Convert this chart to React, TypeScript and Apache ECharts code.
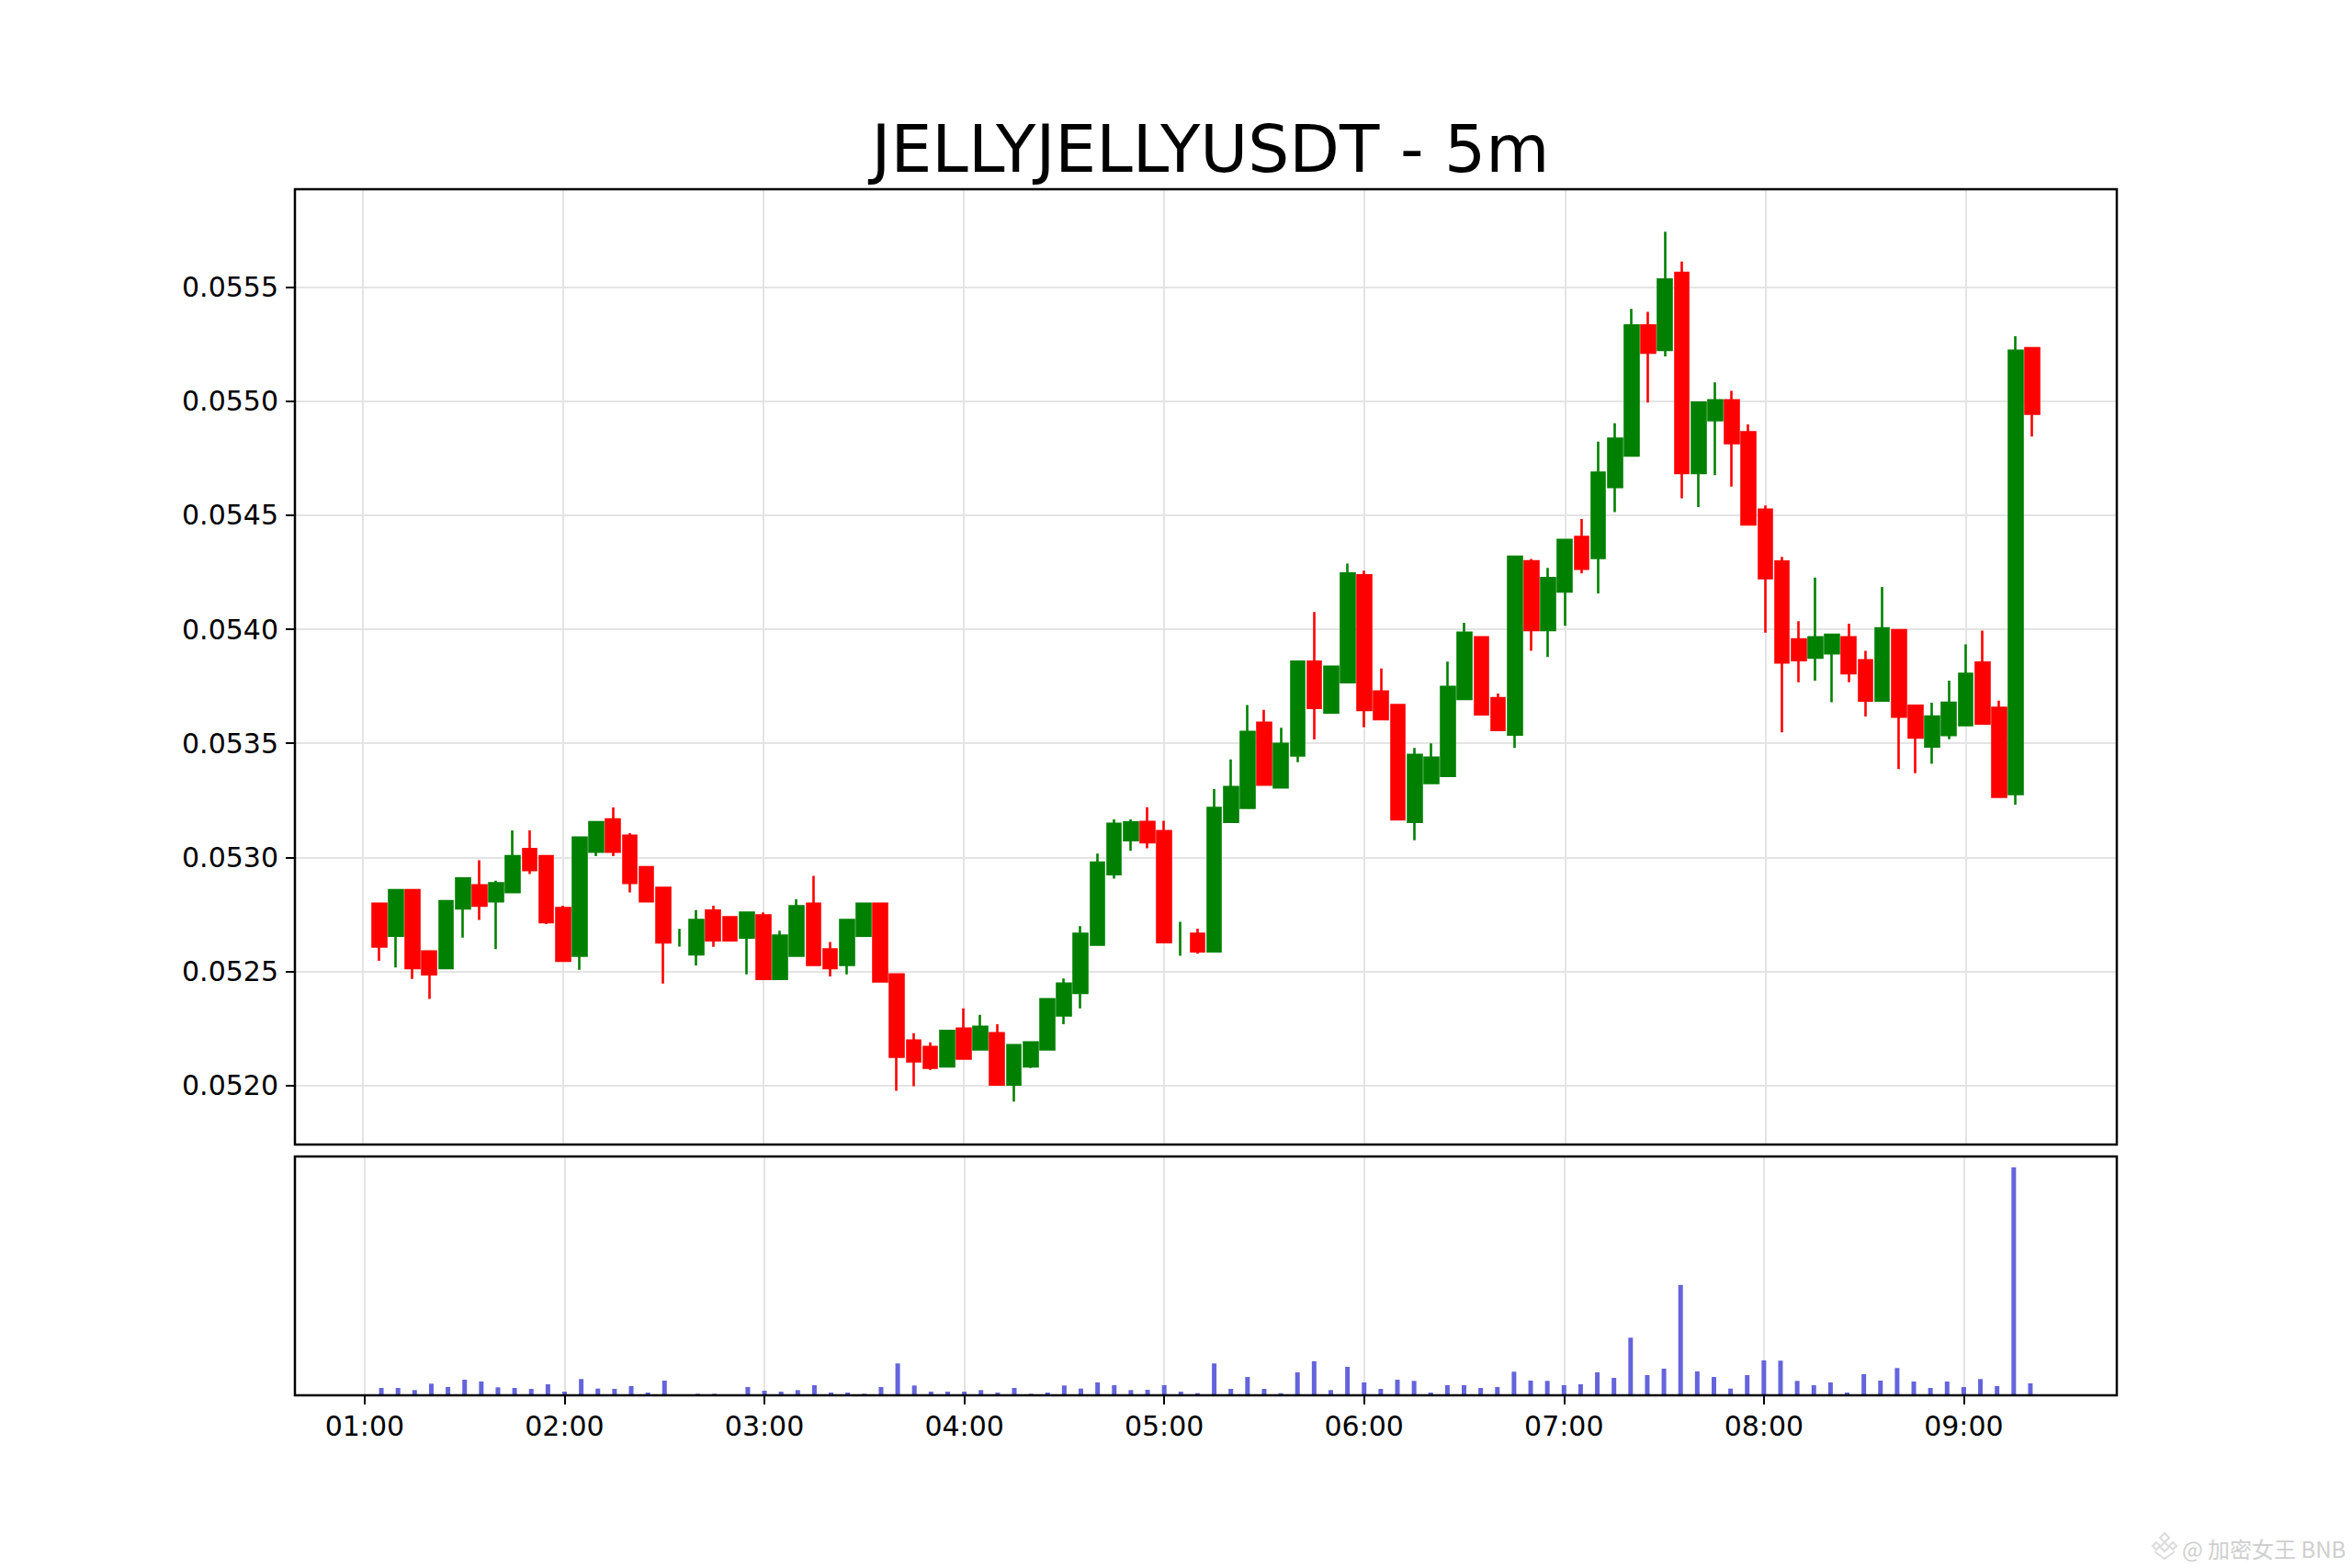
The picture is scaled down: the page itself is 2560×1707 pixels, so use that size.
import React, { useEffect, useRef } from "react";
import * as echarts from "echarts";

const TITLE = "JELLYJELLYUSDT - 5m";
const WATERMARK = "@ 加密女王 BNB";
const STEP_MS = 5 * 60 * 1000;
const BASE_TIME = new Date(2025, 0, 1, 1, 0, 0).getTime();

// candle slots counted in 5 minute steps after 01:00, starting at 01:05
const opens = [
  0.052796, 0.052656, 0.052856, 0.052587, 0.052514, 0.052776, 0.052877, 0.052807, 0.052847, 0.053036,
  0.053005, 0.052777, 0.052568, 0.053024, 0.053166, 0.053094, 0.052957, 0.052866, 0.05265, 0.052574,
  0.052766, 0.052737, 0.052648, 0.052745, 0.052466, 0.052568, 0.052796, 0.052596, 0.052528, 0.052656,
  0.052796, 0.052486, 0.052196, 0.052168, 0.052083, 0.052248, 0.052157, 0.052228, 0.052003, 0.052083,
  0.052157, 0.052306, 0.052405, 0.052616, 0.052926, 0.053075, 0.053155, 0.053115, 0.05265, 0.052664,
  0.052587, 0.053155, 0.053217, 0.05359, 0.053306, 0.053446, 0.053858, 0.053635, 0.053768, 0.054237,
  0.053727, 0.053668, 0.053155, 0.053326, 0.053357, 0.053694, 0.053965, 0.053698, 0.053538, 0.054298,
  0.053996, 0.054166, 0.054405, 0.054313, 0.054624, 0.054762, 0.055333, 0.055225, 0.055563, 0.054685,
  0.054917, 0.055004, 0.054864, 0.054525, 0.054297, 0.053956, 0.053875, 0.053895, 0.053965, 0.053864,
  0.053687, 0.053996, 0.053665, 0.053486, 0.053536, 0.053579, 0.053854, 0.053656, 0.053277, 0.055233,
];
const closes = [
  0.052608, 0.052856, 0.052514, 0.052487, 0.052807, 0.052907, 0.052788, 0.052886, 0.053005, 0.052944,
  0.052715, 0.052546, 0.053086, 0.053154, 0.053024, 0.052887, 0.052807, 0.052627, 0.05265, 0.052725,
  0.052636, 0.052636, 0.052757, 0.052466, 0.052656, 0.052785, 0.052528, 0.052514, 0.052725, 0.052796,
  0.052455, 0.052125, 0.052105, 0.052077, 0.052238, 0.052117, 0.052256, 0.052003, 0.052176, 0.052188,
  0.052377, 0.052446, 0.052664, 0.052977, 0.053147, 0.053153, 0.053066, 0.052628, 0.05265, 0.052587,
  0.053216, 0.053308, 0.05355, 0.053318, 0.053497, 0.053858, 0.053655, 0.053836, 0.054245, 0.053646,
  0.053606, 0.053166, 0.053449, 0.053437, 0.053747, 0.053985, 0.053627, 0.053558, 0.054318, 0.053996,
  0.054225, 0.054392, 0.054265, 0.054687, 0.054836, 0.055333, 0.055213, 0.055534, 0.054685, 0.054994,
  0.055004, 0.054816, 0.05446, 0.054224, 0.053854, 0.053864, 0.053965, 0.053976, 0.053807, 0.053687,
  0.054004, 0.053617, 0.053525, 0.053617, 0.053678, 0.053805, 0.053586, 0.053265, 0.055222, 0.054945,
];
const highs = [
  0.052796, 0.052856, 0.052856, 0.052587, 0.052807, 0.052907, 0.052987, 0.052897, 0.053118, 0.053118,
  0.053005, 0.052788, 0.053086, 0.053158, 0.053219, 0.053106, 0.052957, 0.052866, 0.052686, 0.052768,
  0.052788, 0.052737, 0.052757, 0.052758, 0.052678, 0.052816, 0.052918, 0.052628, 0.052725, 0.052796,
  0.052796, 0.052486, 0.052228, 0.052188, 0.05224, 0.052337, 0.052309, 0.052268, 0.052176, 0.052188,
  0.052377, 0.052468, 0.052698, 0.053016, 0.053166, 0.053166, 0.05322, 0.05316, 0.052717, 0.052687,
  0.053299, 0.053429, 0.053668, 0.053647, 0.053568, 0.053858, 0.054076, 0.053836, 0.054288, 0.054257,
  0.053828, 0.053668, 0.053479, 0.0535, 0.053858, 0.054028, 0.053965, 0.053718, 0.054318, 0.054308,
  0.054269, 0.054396, 0.054484, 0.054823, 0.054904, 0.055405, 0.055392, 0.055744, 0.055613, 0.054994,
  0.055083, 0.055046, 0.054899, 0.054543, 0.054317, 0.054035, 0.054227, 0.053976, 0.054024, 0.053906,
  0.054186, 0.053996, 0.053665, 0.053678, 0.053775, 0.053934, 0.053994, 0.053687, 0.055285, 0.055233,
];
const lows = [
  0.052546, 0.052517, 0.052466, 0.052379, 0.052514, 0.052647, 0.052725, 0.052597, 0.052847, 0.052926,
  0.052707, 0.052546, 0.052506, 0.053005, 0.053005, 0.052846, 0.052807, 0.052446, 0.052608, 0.052526,
  0.052607, 0.052636, 0.052486, 0.052466, 0.052466, 0.052568, 0.052528, 0.052477, 0.052486, 0.052656,
  0.052455, 0.051976, 0.051996, 0.052067, 0.052083, 0.052117, 0.052157, 0.052003, 0.051928, 0.052075,
  0.052157, 0.052268, 0.052337, 0.052616, 0.052906, 0.053028, 0.053039, 0.052628, 0.052568, 0.052577,
  0.052587, 0.053155, 0.053217, 0.053318, 0.053306, 0.053417, 0.053517, 0.053635, 0.053768, 0.05357,
  0.053606, 0.053166, 0.053075, 0.053326, 0.053357, 0.053694, 0.053627, 0.053558, 0.053479, 0.053906,
  0.053878, 0.054015, 0.054245, 0.054157, 0.054514, 0.054762, 0.054994, 0.055197, 0.054574, 0.054536,
  0.054676, 0.054626, 0.05446, 0.053985, 0.053548, 0.053768, 0.053775, 0.05368, 0.053768, 0.053617,
  0.053687, 0.053387, 0.053369, 0.05341, 0.053518, 0.053579, 0.053586, 0.053265, 0.053231, 0.054845,
];
const volumes = [
  24, 24, 17, 38, 27, 51, 45, 26, 24, 21, 36, 12, 53, 22, 21, 30, 9, 48, 2, 5,
  5, 1, 27, 15, 12, 17, 33, 9, 9, 5, 27, 104, 32, 12, 12, 12, 17, 9, 24, 5,
  9, 32, 22, 42, 33, 17, 18, 33, 12, 7, 104, 21, 60, 21, 7, 75, 111, 17, 93, 42,
  21, 51, 47, 9, 33, 33, 24, 27, 77, 48, 47, 33, 36, 75, 57, 188, 66, 87, 360, 78,
  60, 22, 66, 114, 113, 47, 33, 42, 9, 69, 48, 89, 45, 24, 45, 27, 53, 30, 744, 39,
];
// slots whose open equals close: only the wick shows
const wickOnlySlots = [19, 49];

const FONT = "DejaVu Sans";
const GRID_LINE = "#e4e4e4";
const UP = "#008000";
const DOWN = "#ff0000";
const BAR = "#6464dc";

const slotTime = (s: number) => BASE_TIME + s * STEP_MS;

const diamond = (cx: number, cy: number, r: number) => ({
  type: "polygon",
  shape: { points: [[cx, cy - r], [cx + r, cy], [cx, cy + r], [cx - r, cy]] },
  style: { fill: "none", stroke: "#dcdcdc", lineWidth: 2 },
});

const frame = (x: number, y: number, width: number, height: number) => ({
  type: "rect",
  z: 100,
  silent: true,
  shape: { x, y, width, height },
  style: { fill: "none", stroke: "#000", lineWidth: 2.5 },
});

export default function App() {
  const ref = useRef<HTMLDivElement>(null);
  useEffect(() => {
    document.body.style.margin = "0";
    const chart = echarts.init(ref.current!, undefined, { renderer: "svg" });
    const rows = opens.map((o, i) => ({
      slot: i + 1,
      row: [slotTime(i + 1), o, closes[i], lows[i], highs[i]],
    }));
    const xMin = slotTime(-4.05);
    const xMax = slotTime(105.05);
    const xCommon = {
      type: "time",
      min: xMin,
      max: xMax,
      splitNumber: 9,
      minInterval: 3600000,
      maxInterval: 3600000,
      splitLine: { show: true, showMinLine: false, showMaxLine: false, lineStyle: { color: GRID_LINE, width: 2 } },
    };
    chart.setOption({
      animation: false,
      backgroundColor: "#ffffff",
      title: {
        text: TITLE,
        left: 1312.5,
        top: 122,
        textAlign: "center",
        textStyle: { fontFamily: FONT, fontSize: 71, fontWeight: "normal", color: "#000" },
      },
      grid: [
        { left: 321, right: 256, top: 206, height: 1040, show: false },
        { left: 321, right: 256, top: 1259, height: 260, show: false },
      ],
      xAxis: [
        { ...xCommon, gridIndex: 0, axisLine: { show: false }, axisTick: { show: false }, axisLabel: { show: false } },
        {
          ...xCommon,
          gridIndex: 1,
          axisLine: { show: false },
          axisTick: { show: true, length: 10, lineStyle: { color: "#000", width: 2 } },
          axisLabel: {
            show: true,
            formatter: "{HH}:{mm}",
            fontFamily: FONT,
            fontSize: 30,
            color: "#000",
            margin: 18,
            showMinLabel: false,
            showMaxLabel: false,
          },
        },
      ],
      yAxis: [
        {
          type: "value",
          gridIndex: 0,
          min: 0.05174,
          max: 0.05593,
          splitNumber: 8,
          axisLine: { show: false },
          axisTick: { show: true, length: 10, lineStyle: { color: "#000", width: 2 } },
          axisLabel: {
            fontFamily: FONT,
            fontSize: 30,
            color: "#000",
            margin: 18,
            showMinLabel: false,
            showMaxLabel: false,
            formatter: (v: number) => v.toFixed(4),
          },
          splitLine: { show: true, showMinLine: false, showMaxLine: false, lineStyle: { color: GRID_LINE, width: 2 } },
        },
        {
          type: "value",
          gridIndex: 1,
          min: 0,
          max: 779,
          axisLine: { show: false },
          axisTick: { show: false },
          axisLabel: { show: false },
          splitLine: { show: false },
        },
      ],
      series: [
        {
          name: "Price",
          type: "candlestick",
          xAxisIndex: 0,
          yAxisIndex: 0,
          barWidth: 15.2,
          data: rows.filter((r) => !wickOnlySlots.includes(r.slot)).map((r) => r.row),
          itemStyle: { color: UP, color0: DOWN, borderColor: UP, borderColor0: DOWN, borderWidth: 2.6 },
        },
        {
          name: "Price wick",
          type: "candlestick",
          xAxisIndex: 0,
          yAxisIndex: 0,
          barWidth: 0.1,
          data: rows.filter((r) => wickOnlySlots.includes(r.slot)).map((r) => r.row),
          itemStyle: { color: UP, color0: UP, borderColor: UP, borderColor0: UP, borderWidth: 2.6 },
        },
        {
          name: "Volume",
          type: "bar",
          xAxisIndex: 1,
          yAxisIndex: 1,
          barWidth: 5,
          data: volumes.map((v, i) => [slotTime(i + 1), v]),
          itemStyle: { color: BAR },
        },
      ],
      graphic: [
        frame(321, 206, 1983, 1040),
        frame(321, 1259, 1983, 260),
        {
          type: "group",
          silent: true,
          children: [
            diamond(2356, 1674, 5),
            diamond(2347, 1683, 4),
            diamond(2365, 1683, 4),
            diamond(2356, 1684, 5),
            {
              type: "polyline",
              shape: { points: [[2345, 1689], [2356, 1697], [2367, 1689]] },
              style: { stroke: "#dcdcdc", lineWidth: 2, fill: "none" },
            },
            {
              type: "text",
              x: 2375,
              y: 1685,
              style: {
                text: WATERMARK,
                font: '24px "Noto Sans CJK SC"',
                fill: "#cfcfcf",
                verticalAlign: "middle",
              },
            },
          ],
        },
      ],
    });
    return () => chart.dispose();
  }, []);
  return <div ref={ref} style={{ width: 2560, height: 1707 }} />;
}
